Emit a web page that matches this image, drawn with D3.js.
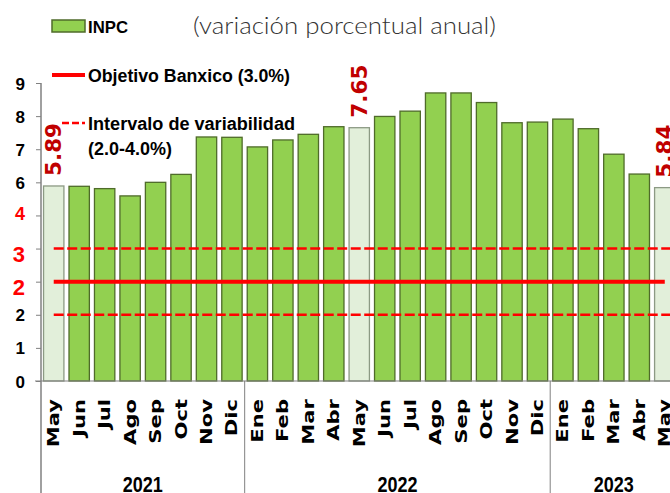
<!DOCTYPE html>
<html>
<head>
<meta charset="utf-8">
<script src="https://cdn.jsdelivr.net/npm/d3@7"></script>
<style>
  body { margin: 0; background: #fff; overflow: hidden; }
  svg { display: block; }
</style>
</head>
<body>
<svg width="670" height="493"></svg>
<script>
// datos: INPC variación porcentual anual
const months = ["May", "Jun", "Jul", "Ago", "Sep", "Oct", "Nov", "Dic",
    "Ene", "Feb", "Mar", "Abr", "May", "Jun", "Jul", "Ago", "Sep", "Oct", "Nov", "Dic",
    "Ene", "Feb", "Mar", "Abr", "May"];
const inpc = [5.89, 5.88, 5.81, 5.59, 6.00, 6.24, 7.37, 7.36,
    7.07, 7.28, 7.45, 7.68, 7.65, 7.99, 8.15, 8.70, 8.70, 8.41, 7.80, 7.82,
    7.91, 7.62, 6.85, 6.25, 5.84];
const yearLabels = ["2021", "2022", "2023"];
const yearCounts = [8, 12, 5];
const labelledBars = [0, 12, 24];
const banxicoTarget = 3.0;
const rangeBounds = [2.0, 4.0];
const yTickLabels = ["0", "1", "2", "2", "3", "4", "6", "7", "8", "9"];

const svg = d3.select("svg");
const red = "#ff0000";
const boldFont = "'Liberation Sans', Arial, sans-serif";
const wideFont = "'DejaVu Sans', Verdana, sans-serif";

const idx = d3.range(months.length);
const x = d3.scaleBand()
    .domain(idx)
    .range([41, 41 + 25 * 25.46])
    .paddingInner(0.2)
    .paddingOuter(0.1);
const y = d3.scaleLinear().domain([0, 9]).range([381, 83]);
const gap = (x.step() - x.bandwidth()) / 2;

// ejes
const yAxis = svg.append("g")
    .attr("transform", "translate(41,0)")
    .call(d3.axisLeft(y).tickValues(d3.range(0, 10)).tickSize(5)
        .tickFormat(d => yTickLabels[d]));
yAxis.select(".domain").remove();
yAxis.selectAll(".tick line").attr("stroke", "#808080");
yAxis.selectAll(".tick text")
    .attr("x", -16)
    .attr("dy", null)
    .attr("y", d => d === 3 || d === 4 ? 13 : d === 5 ? 4 : 6)
    .attr("font-family", boldFont)
    .attr("font-weight", "bold")
    .attr("font-size", d => d === 3 || d === 4 ? 22 : d === 5 ? 18 : 17)
    .attr("fill", d => d >= 3 && d <= 5 ? red : "#000");

// barras
svg.append("g").selectAll("rect")
    .data(idx)
    .join("rect")
    .attr("x", i => x(i))
    .attr("y", i => y(inpc[i]))
    .attr("width", x.bandwidth())
    .attr("height", i => y(0) - y(inpc[i]))
    .attr("fill", i => labelledBars.includes(i) ? "#e2efda" : "#92d050")
    .attr("stroke", i => labelledBars.includes(i) ? "#8c9a84" : "#4f6b2a")
    .attr("stroke-width", 1.3);

svg.append("line")
    .attr("x1", 35).attr("x2", 680)
    .attr("y1", y(0)).attr("y2", y(0))
    .attr("stroke", "#808080");
svg.append("line")
    .attr("x1", 41).attr("x2", 41)
    .attr("y1", y(9)).attr("y2", 493)
    .attr("stroke", "#808080").attr("stroke-width", 1.5);

// líneas de referencia
const x0 = x(0) + x.bandwidth() / 2;
const x1 = x(months.length - 1) + x.bandwidth() / 2;
svg.append("line")
    .attr("x1", x0).attr("x2", x1)
    .attr("y1", y(banxicoTarget)).attr("y2", y(banxicoTarget))
    .attr("stroke", red).attr("stroke-width", 4);
svg.append("g").selectAll("line")
    .data(rangeBounds)
    .join("line")
    .attr("x1", x0).attr("x2", x1 + 10)
    .attr("y1", d => y(d)).attr("y2", d => y(d))
    .attr("stroke", red).attr("stroke-width", 2.6)
    .attr("stroke-dasharray", "10,3.5");

// etiquetas de valor
svg.append("g").selectAll("text")
    .data(labelledBars)
    .join("text")
    .attr("transform", i => `translate(${x(i) + x.bandwidth() / 2 + 7.5},${y(inpc[i]) - 10}) rotate(-90)`)
    .attr("font-family", wideFont)
    .attr("font-weight", "bold")
    .attr("font-size", 21.5)
    .attr("fill", "#c00000")
    .text(i => inpc[i].toFixed(2));

// meses
svg.append("g").selectAll("text")
    .data(idx)
    .join("text")
    .attr("transform", i => `translate(${x(i) + x.bandwidth() / 2 + 5.5},399) rotate(-90) scale(1.28,1)`)
    .attr("text-anchor", "end")
    .attr("font-family", wideFont)
    .attr("font-weight", "bold")
    .attr("font-size", 16.5)
    .attr("fill", "#000")
    .text(i => months[i]);

// años
let start = 0;
yearLabels.forEach((yr, k) => {
    const left = x(start) - gap;
    const right = x(start + yearCounts[k] - 1) + x.bandwidth() + gap;
    if (k > 0) {
        svg.append("line")
            .attr("x1", left).attr("x2", left)
            .attr("y1", y(0)).attr("y2", 493)
            .attr("stroke", "#808080");
    }
    svg.append("text")
        .attr("x", (left + right) / 2 - 20)
        .attr("y", 492)
        .attr("textLength", 40)
        .attr("lengthAdjust", "spacingAndGlyphs")
        .attr("font-family", boldFont)
        .attr("font-weight", "bold")
        .attr("font-size", 22)
        .text(yr);
    start += yearCounts[k];
});

// leyenda y título
svg.append("rect")
    .attr("x", 52).attr("y", 20).attr("width", 33).attr("height", 12)
    .attr("fill", "#92d050").attr("stroke", "#4f6b2a").attr("stroke-width", 1.5);
svg.append("line")
    .attr("x1", 52).attr("x2", 85).attr("y1", 75).attr("y2", 75)
    .attr("stroke", red).attr("stroke-width", 4);
svg.append("line")
    .attr("x1", 62).attr("x2", 85).attr("y1", 123).attr("y2", 123)
    .attr("stroke", red).attr("stroke-width", 2.6)
    .attr("stroke-dasharray", "7,3");

const legendTexts = [
    { t: "INPC", x: 88, y: 33, len: 40, size: 17 },
    { t: "Objetivo Banxico (3.0%)", x: 88, y: 82, len: 202, size: 18 },
    { t: "Intervalo de variabilidad", x: 88, y: 130, len: 207, size: 18 },
    { t: "(2.0-4.0%)", x: 88, y: 155, len: 84, size: 18 }
];
svg.append("g").selectAll("text")
    .data(legendTexts)
    .join("text")
    .attr("x", d => d.x).attr("y", d => d.y)
    .attr("textLength", d => d.len)
    .attr("lengthAdjust", "spacingAndGlyphs")
    .attr("font-family", boldFont)
    .attr("font-weight", "bold")
    .attr("font-size", d => d.size)
    .text(d => d.t);

svg.append("text")
    .attr("x", 193).attr("y", 34)
    .attr("textLength", 303)
    .attr("lengthAdjust", "spacingAndGlyphs")
    .attr("font-family", "Lato, 'Open Sans', sans-serif")
    .attr("font-weight", 300)
    .attr("font-size", 24)
    .attr("fill", "#333")
    .text("(variación porcentual anual)");
</script>
</body>
</html>
